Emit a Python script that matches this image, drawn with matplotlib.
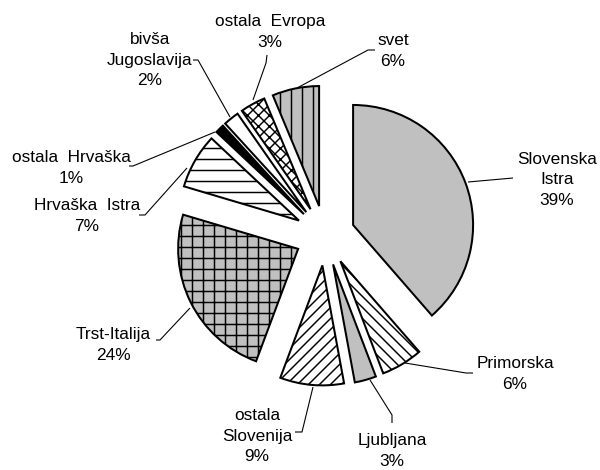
import matplotlib
matplotlib.use("Agg")
import matplotlib.pyplot as plt

# ---- data ----
categories = ["Slovenska\nIstra", "Primorska", "Ljubljana", "ostala\nSlovenija",
              "Trst-Italija", "Hrvaška  Istra", "ostala  Hrvaška",
              "bivša\nJugoslavija", "ostala  Evropa", "svet"]
shares = [38.6, 5.6, 2.9, 8.6, 23.9, 7.4, 1.2, 2.1, 3.4, 6.3]

# ---- styles ----
colors = ["#c0c0c0", "white", "#c0c0c0", "white", "#c0c0c0",
          "white", "black", "white", "white", "#c0c0c0"]
hatches = ["", "\\\\\\\\", "", "////", "++", "--", "", "", "xxxx", "||"]

DPI = 132
plt.rcParams["hatch.linewidth"] = 0.8
fig = plt.figure(figsize=(600 / DPI, 470 / DPI), dpi=DPI)
ax = fig.add_axes([0, 0, 1, 1])

R = 120.0
CX, CY = 325.0, 235.5


def P(x, y):
    return ((x - CX) / R, (CY - y) / R)


wedges, _ = ax.pie(shares, radius=1, center=(0, 0), startangle=90,
                   counterclock=False, explode=[0.25] * len(shares),
                   colors=colors,
                   wedgeprops=dict(edgecolor="black", linewidth=1.1))
for w, h in zip(wedges, hatches):
    w.set_hatch(h)

ax.set_xlim(-CX / R, (600 - CX) / R)
ax.set_ylim(-(470 - CY) / R, CY / R)
ax.axis("off")

# ---- label layout (pixel positions) ----
label_pos = [(557, 180), (515, 374), (392, 451), (257, 436), (113, 345),
             (87, 216), (71, 168), (150, 60), (270, 32), (393, 51)]
leaders = [
    [(468, 182), (513, 178)],
    [(405, 363), (466, 373), (473, 373)],
    [(370, 380), (392, 415), (392, 423)],
    [(313, 387), (302, 432), (295, 432)],
    [(190, 308), (160, 340), (156, 340)],
    [(187, 168), (145, 215), (139, 215)],
    [(215, 132), (133, 166), (129, 166)],
    [(230, 117), (198, 60), (193, 60)],
    [(253, 100), (266, 63), (267, 55)],
    [(297, 88), (368, 50), (375, 50)],
]

for cat, val, (lx, ly), pts in zip(categories, shares, label_pos, leaders):
    tx, ty = P(lx, ly)
    ax.text(tx, ty, f"{cat}\n{round(val)}%", ha="center", va="center",
            fontsize=9.4, family=["Liberation Sans", "DejaVu Sans"],
            linespacing=1.45, color="black")
    xs = [P(x, y)[0] for x, y in pts]
    ys = [P(x, y)[1] for x, y in pts]
    ax.plot(xs, ys, color="black", lw=0.6, solid_capstyle="butt")

fig.savefig("out.png", dpi=DPI, facecolor="white")
